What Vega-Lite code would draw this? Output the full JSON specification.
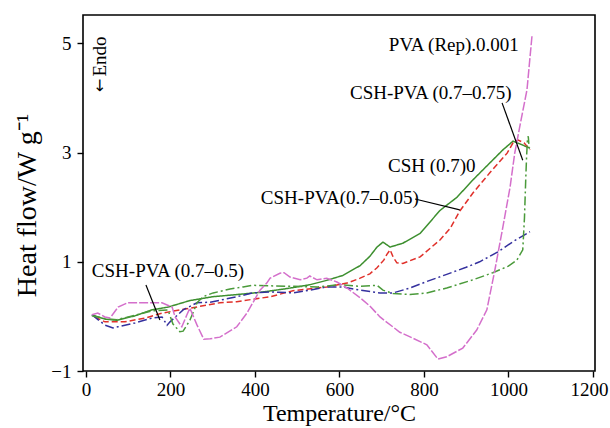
{
  "$schema": "https://vega.github.io/schema/vega-lite/v6.json",
  "width": 512,
  "height": 356,
  "autosize": "none",
  "padding": {"left": 83, "top": 15, "right": 15, "bottom": 57},
  "background": "white",
  "config": {
    "view": {"stroke": "black", "strokeWidth": 1.6},
    "font": "Liberation Serif",
    "axis": {"grid": false, "domain": false, "tickColor": "black", "tickSize": 6, "tickWidth": 1.4, "labelColor": "black", "titleColor": "black", "labelFont": "Liberation Serif", "titleFont": "Liberation Serif", "labelFontSize": 19, "titleFontSize": 24, "titleFontWeight": "normal"}
  },
  "datasets": {
    "curves": [
      {"s": "CSH (0.7)0", "T": 14, "y": 0.03},
      {"s": "CSH (0.7)0", "T": 45, "y": -0.05},
      {"s": "CSH (0.7)0", "T": 73, "y": -0.07},
      {"s": "CSH (0.7)0", "T": 116, "y": 0.01},
      {"s": "CSH (0.7)0", "T": 156, "y": 0.12},
      {"s": "CSH (0.7)0", "T": 194, "y": 0.17},
      {"s": "CSH (0.7)0", "T": 246, "y": 0.29},
      {"s": "CSH (0.7)0", "T": 300, "y": 0.36},
      {"s": "CSH (0.7)0", "T": 357, "y": 0.40},
      {"s": "CSH (0.7)0", "T": 412, "y": 0.44},
      {"s": "CSH (0.7)0", "T": 476, "y": 0.51},
      {"s": "CSH (0.7)0", "T": 530, "y": 0.58},
      {"s": "CSH (0.7)0", "T": 570, "y": 0.66},
      {"s": "CSH (0.7)0", "T": 608, "y": 0.75},
      {"s": "CSH (0.7)0", "T": 649, "y": 0.93},
      {"s": "CSH (0.7)0", "T": 672, "y": 1.10},
      {"s": "CSH (0.7)0", "T": 689, "y": 1.27},
      {"s": "CSH (0.7)0", "T": 703, "y": 1.36},
      {"s": "CSH (0.7)0", "T": 720, "y": 1.27},
      {"s": "CSH (0.7)0", "T": 750, "y": 1.34},
      {"s": "CSH (0.7)0", "T": 791, "y": 1.52},
      {"s": "CSH (0.7)0", "T": 838, "y": 1.94},
      {"s": "CSH (0.7)0", "T": 878, "y": 2.18},
      {"s": "CSH (0.7)0", "T": 916, "y": 2.50},
      {"s": "CSH (0.7)0", "T": 956, "y": 2.81},
      {"s": "CSH (0.7)0", "T": 987, "y": 3.05},
      {"s": "CSH (0.7)0", "T": 1011, "y": 3.21},
      {"s": "CSH (0.7)0", "T": 1027, "y": 3.16},
      {"s": "CSH (0.7)0", "T": 1051, "y": 3.08},

      {"s": "CSH-PVA(0.7–0.05)", "T": 21, "y": -0.01},
      {"s": "CSH-PVA(0.7–0.05)", "T": 45, "y": -0.10},
      {"s": "CSH-PVA(0.7–0.05)", "T": 92, "y": -0.10},
      {"s": "CSH-PVA(0.7–0.05)", "T": 140, "y": -0.03},
      {"s": "CSH-PVA(0.7–0.05)", "T": 180, "y": 0.06},
      {"s": "CSH-PVA(0.7–0.05)", "T": 246, "y": 0.15},
      {"s": "CSH-PVA(0.7–0.05)", "T": 317, "y": 0.25},
      {"s": "CSH-PVA(0.7–0.05)", "T": 357, "y": 0.27},
      {"s": "CSH-PVA(0.7–0.05)", "T": 436, "y": 0.36},
      {"s": "CSH-PVA(0.7–0.05)", "T": 490, "y": 0.47},
      {"s": "CSH-PVA(0.7–0.05)", "T": 570, "y": 0.54},
      {"s": "CSH-PVA(0.7–0.05)", "T": 618, "y": 0.61},
      {"s": "CSH-PVA(0.7–0.05)", "T": 649, "y": 0.70},
      {"s": "CSH-PVA(0.7–0.05)", "T": 672, "y": 0.78},
      {"s": "CSH-PVA(0.7–0.05)", "T": 689, "y": 0.89},
      {"s": "CSH-PVA(0.7–0.05)", "T": 705, "y": 1.03},
      {"s": "CSH-PVA(0.7–0.05)", "T": 712, "y": 1.13},
      {"s": "CSH-PVA(0.7–0.05)", "T": 720, "y": 1.22},
      {"s": "CSH-PVA(0.7–0.05)", "T": 727, "y": 1.09},
      {"s": "CSH-PVA(0.7–0.05)", "T": 736, "y": 0.98},
      {"s": "CSH-PVA(0.7–0.05)", "T": 750, "y": 0.97},
      {"s": "CSH-PVA(0.7–0.05)", "T": 791, "y": 1.09},
      {"s": "CSH-PVA(0.7–0.05)", "T": 838, "y": 1.40},
      {"s": "CSH-PVA(0.7–0.05)", "T": 862, "y": 1.61},
      {"s": "CSH-PVA(0.7–0.05)", "T": 885, "y": 1.93},
      {"s": "CSH-PVA(0.7–0.05)", "T": 916, "y": 2.26},
      {"s": "CSH-PVA(0.7–0.05)", "T": 956, "y": 2.63},
      {"s": "CSH-PVA(0.7–0.05)", "T": 997, "y": 2.99},
      {"s": "CSH-PVA(0.7–0.05)", "T": 1011, "y": 3.18},
      {"s": "CSH-PVA(0.7–0.05)", "T": 1023, "y": 3.23},
      {"s": "CSH-PVA(0.7–0.05)", "T": 1037, "y": 3.18},
      {"s": "CSH-PVA(0.7–0.05)", "T": 1051, "y": 3.05},

      {"s": "CSH-PVA (0.7–0.5)", "T": 14, "y": 0.03},
      {"s": "CSH-PVA (0.7–0.5)", "T": 45, "y": -0.16},
      {"s": "CSH-PVA (0.7–0.5)", "T": 64, "y": -0.21},
      {"s": "CSH-PVA (0.7–0.5)", "T": 76, "y": -0.19},
      {"s": "CSH-PVA (0.7–0.5)", "T": 116, "y": -0.12},
      {"s": "CSH-PVA (0.7–0.5)", "T": 156, "y": -0.03},
      {"s": "CSH-PVA (0.7–0.5)", "T": 180, "y": -0.01},
      {"s": "CSH-PVA (0.7–0.5)", "T": 192, "y": -0.16},
      {"s": "CSH-PVA (0.7–0.5)", "T": 199, "y": -0.10},
      {"s": "CSH-PVA (0.7–0.5)", "T": 230, "y": 0.12},
      {"s": "CSH-PVA (0.7–0.5)", "T": 263, "y": 0.25},
      {"s": "CSH-PVA (0.7–0.5)", "T": 294, "y": 0.26},
      {"s": "CSH-PVA (0.7–0.5)", "T": 357, "y": 0.36},
      {"s": "CSH-PVA (0.7–0.5)", "T": 395, "y": 0.43},
      {"s": "CSH-PVA (0.7–0.5)", "T": 436, "y": 0.45},
      {"s": "CSH-PVA (0.7–0.5)", "T": 490, "y": 0.43},
      {"s": "CSH-PVA (0.7–0.5)", "T": 530, "y": 0.48},
      {"s": "CSH-PVA (0.7–0.5)", "T": 570, "y": 0.54},
      {"s": "CSH-PVA (0.7–0.5)", "T": 608, "y": 0.54},
      {"s": "CSH-PVA (0.7–0.5)", "T": 649, "y": 0.48},
      {"s": "CSH-PVA (0.7–0.5)", "T": 696, "y": 0.43},
      {"s": "CSH-PVA (0.7–0.5)", "T": 727, "y": 0.43},
      {"s": "CSH-PVA (0.7–0.5)", "T": 767, "y": 0.52},
      {"s": "CSH-PVA (0.7–0.5)", "T": 807, "y": 0.64},
      {"s": "CSH-PVA (0.7–0.5)", "T": 854, "y": 0.77},
      {"s": "CSH-PVA (0.7–0.5)", "T": 900, "y": 0.90},
      {"s": "CSH-PVA (0.7–0.5)", "T": 932, "y": 1.00},
      {"s": "CSH-PVA (0.7–0.5)", "T": 975, "y": 1.18},
      {"s": "CSH-PVA (0.7–0.5)", "T": 1011, "y": 1.37},
      {"s": "CSH-PVA (0.7–0.5)", "T": 1051, "y": 1.55},

      {"s": "CSH-PVA (0.7–0.75)", "T": 14, "y": 0.01},
      {"s": "CSH-PVA (0.7–0.75)", "T": 45, "y": -0.04},
      {"s": "CSH-PVA (0.7–0.75)", "T": 73, "y": -0.06},
      {"s": "CSH-PVA (0.7–0.75)", "T": 116, "y": 0.02},
      {"s": "CSH-PVA (0.7–0.75)", "T": 156, "y": 0.10},
      {"s": "CSH-PVA (0.7–0.75)", "T": 194, "y": 0.12},
      {"s": "CSH-PVA (0.7–0.75)", "T": 206, "y": -0.14},
      {"s": "CSH-PVA (0.7–0.75)", "T": 222, "y": -0.28},
      {"s": "CSH-PVA (0.7–0.75)", "T": 230, "y": -0.27},
      {"s": "CSH-PVA (0.7–0.75)", "T": 246, "y": -0.07},
      {"s": "CSH-PVA (0.7–0.75)", "T": 263, "y": 0.25},
      {"s": "CSH-PVA (0.7–0.75)", "T": 277, "y": 0.36},
      {"s": "CSH-PVA (0.7–0.75)", "T": 301, "y": 0.43},
      {"s": "CSH-PVA (0.7–0.75)", "T": 341, "y": 0.50},
      {"s": "CSH-PVA (0.7–0.75)", "T": 372, "y": 0.54},
      {"s": "CSH-PVA (0.7–0.75)", "T": 395, "y": 0.57},
      {"s": "CSH-PVA (0.7–0.75)", "T": 436, "y": 0.56},
      {"s": "CSH-PVA (0.7–0.75)", "T": 490, "y": 0.55},
      {"s": "CSH-PVA (0.7–0.75)", "T": 549, "y": 0.54},
      {"s": "CSH-PVA (0.7–0.75)", "T": 601, "y": 0.58},
      {"s": "CSH-PVA (0.7–0.75)", "T": 649, "y": 0.55},
      {"s": "CSH-PVA (0.7–0.75)", "T": 689, "y": 0.57},
      {"s": "CSH-PVA (0.7–0.75)", "T": 703, "y": 0.48},
      {"s": "CSH-PVA (0.7–0.75)", "T": 727, "y": 0.42},
      {"s": "CSH-PVA (0.7–0.75)", "T": 767, "y": 0.40},
      {"s": "CSH-PVA (0.7–0.75)", "T": 807, "y": 0.43},
      {"s": "CSH-PVA (0.7–0.75)", "T": 854, "y": 0.52},
      {"s": "CSH-PVA (0.7–0.75)", "T": 916, "y": 0.67},
      {"s": "CSH-PVA (0.7–0.75)", "T": 963, "y": 0.80},
      {"s": "CSH-PVA (0.7–0.75)", "T": 1000, "y": 0.92},
      {"s": "CSH-PVA (0.7–0.75)", "T": 1020, "y": 1.03},
      {"s": "CSH-PVA (0.7–0.75)", "T": 1034, "y": 1.22},
      {"s": "CSH-PVA (0.7–0.75)", "T": 1038, "y": 1.8},
      {"s": "CSH-PVA (0.7–0.75)", "T": 1041, "y": 2.5},
      {"s": "CSH-PVA (0.7–0.75)", "T": 1043, "y": 2.92},
      {"s": "CSH-PVA (0.7–0.75)", "T": 1045, "y": 3.22},
      {"s": "CSH-PVA (0.7–0.75)", "T": 1047, "y": 3.30},
      {"s": "CSH-PVA (0.7–0.75)", "T": 1049, "y": 3.10},

      {"s": "PVA (Rep).0.001", "T": 14, "y": 0.03},
      {"s": "PVA (Rep).0.001", "T": 28, "y": 0.06},
      {"s": "PVA (Rep).0.001", "T": 45, "y": -0.01},
      {"s": "PVA (Rep).0.001", "T": 57, "y": -0.03},
      {"s": "PVA (Rep).0.001", "T": 76, "y": 0.17},
      {"s": "PVA (Rep).0.001", "T": 99, "y": 0.25},
      {"s": "PVA (Rep).0.001", "T": 116, "y": 0.25},
      {"s": "PVA (Rep).0.001", "T": 180, "y": 0.25},
      {"s": "PVA (Rep).0.001", "T": 204, "y": 0.17},
      {"s": "PVA (Rep).0.001", "T": 211, "y": -0.01},
      {"s": "PVA (Rep).0.001", "T": 227, "y": -0.19},
      {"s": "PVA (Rep).0.001", "T": 239, "y": 0.03},
      {"s": "PVA (Rep).0.001", "T": 246, "y": 0.15},
      {"s": "PVA (Rep).0.001", "T": 263, "y": -0.16},
      {"s": "PVA (Rep).0.001", "T": 279, "y": -0.42},
      {"s": "PVA (Rep).0.001", "T": 294, "y": -0.41},
      {"s": "PVA (Rep).0.001", "T": 317, "y": -0.38},
      {"s": "PVA (Rep).0.001", "T": 357, "y": -0.19},
      {"s": "PVA (Rep).0.001", "T": 381, "y": 0.06},
      {"s": "PVA (Rep).0.001", "T": 395, "y": 0.25},
      {"s": "PVA (Rep).0.001", "T": 412, "y": 0.48},
      {"s": "PVA (Rep).0.001", "T": 428, "y": 0.61},
      {"s": "PVA (Rep).0.001", "T": 436, "y": 0.70},
      {"s": "PVA (Rep).0.001", "T": 459, "y": 0.79},
      {"s": "PVA (Rep).0.001", "T": 469, "y": 0.80},
      {"s": "PVA (Rep).0.001", "T": 483, "y": 0.72},
      {"s": "PVA (Rep).0.001", "T": 507, "y": 0.67},
      {"s": "PVA (Rep).0.001", "T": 523, "y": 0.70},
      {"s": "PVA (Rep).0.001", "T": 530, "y": 0.74},
      {"s": "PVA (Rep).0.001", "T": 547, "y": 0.67},
      {"s": "PVA (Rep).0.001", "T": 570, "y": 0.70},
      {"s": "PVA (Rep).0.001", "T": 594, "y": 0.63},
      {"s": "PVA (Rep).0.001", "T": 618, "y": 0.52},
      {"s": "PVA (Rep).0.001", "T": 649, "y": 0.34},
      {"s": "PVA (Rep).0.001", "T": 672, "y": 0.19},
      {"s": "PVA (Rep).0.001", "T": 696, "y": -0.01},
      {"s": "PVA (Rep).0.001", "T": 743, "y": -0.29},
      {"s": "PVA (Rep).0.001", "T": 774, "y": -0.40},
      {"s": "PVA (Rep).0.001", "T": 807, "y": -0.52},
      {"s": "PVA (Rep).0.001", "T": 833, "y": -0.78},
      {"s": "PVA (Rep).0.001", "T": 854, "y": -0.74},
      {"s": "PVA (Rep).0.001", "T": 892, "y": -0.58},
      {"s": "PVA (Rep).0.001", "T": 925, "y": -0.25},
      {"s": "PVA (Rep).0.001", "T": 949, "y": 0.12},
      {"s": "PVA (Rep).0.001", "T": 968, "y": 0.85},
      {"s": "PVA (Rep).0.001", "T": 987, "y": 1.64},
      {"s": "PVA (Rep).0.001", "T": 1004, "y": 2.37},
      {"s": "PVA (Rep).0.001", "T": 1015, "y": 2.99},
      {"s": "PVA (Rep).0.001", "T": 1030, "y": 3.60},
      {"s": "PVA (Rep).0.001", "T": 1044, "y": 4.15},
      {"s": "PVA (Rep).0.001", "T": 1056, "y": 5.15}
    ],
    "labels": [
      {"label": "PVA (Rep).0.001", "T": 717, "y": 4.97},
      {"label": "CSH-PVA (0.7–0.75)", "T": 625, "y": 4.09},
      {"label": "CSH (0.7)0", "T": 715, "y": 2.75},
      {"label": "CSH-PVA(0.7–0.05)", "T": 414, "y": 2.17},
      {"label": "CSH-PVA (0.7–0.5)", "T": 14, "y": 0.83}
    ],
    "leaders": [
      {"T": 985, "y": 3.91, "T2": 1034, "y2": 2.86},
      {"T": 779, "y": 2.15, "T2": 885, "y2": 1.95},
      {"T": 142, "y": 0.575, "T2": 175, "y2": -0.066}
    ],
    "endo": [
      {"label": "Endo", "T": 33, "y": 4.76}
    ],
    "arrow": [
      {"label": "←", "T": 33, "y": 4.23}
    ]
  },
  "layer": [
    {
      "data": {"name": "curves"},
      "mark": {"type": "line", "strokeWidth": 1.5, "clip": true},
      "encoding": {
        "x": {"field": "T", "type": "quantitative", "scale": {"domain": [-7, 1205], "nice": false, "zero": false}, "axis": {"values": [0, 200, 400, 600, 800, 1000, 1200], "format": "d", "title": "Temperature/°C", "titlePadding": 2, "labelPadding": 3, "labelOffset": {"condition": {"test": "datum.value == 1200", "value": -4}, "value": 0}}},
        "y": {"field": "y", "type": "quantitative", "scale": {"domain": [-1, 5.52], "nice": false, "zero": false}, "axis": {"values": [-1, 1, 3, 5], "title": "Heat flow/W g⁻¹", "titleFontSize": 28, "titlePadding": 9, "titleY": 190, "labelPadding": 6}},
        "color": {"field": "s", "type": "nominal", "legend": null, "scale": {"domain": ["CSH (0.7)0", "CSH-PVA(0.7–0.05)", "CSH-PVA (0.7–0.5)", "CSH-PVA (0.7–0.75)", "PVA (Rep).0.001"], "range": ["#3d8f2f", "#e0302a", "#34309e", "#4a9a3a", "#d46fcb"]}},
        "strokeDash": {"field": "s", "type": "nominal", "legend": null, "scale": {"domain": ["CSH (0.7)0", "CSH-PVA(0.7–0.05)", "CSH-PVA (0.7–0.5)", "CSH-PVA (0.7–0.75)", "PVA (Rep).0.001"], "range": [[1, 0], [6, 3], [9, 3, 2, 3], [9, 3, 2, 3], [9, 2]]}}
      }
    },
    {
      "data": {"name": "leaders"},
      "mark": {"type": "rule", "color": "black", "strokeWidth": 1.2},
      "encoding": {
        "x": {"field": "T", "type": "quantitative"},
        "y": {"field": "y", "type": "quantitative"},
        "x2": {"field": "T2"},
        "y2": {"field": "y2"}
      }
    },
    {
      "data": {"name": "labels"},
      "mark": {"type": "text", "align": "left", "baseline": "middle", "font": "Liberation Serif", "fontSize": 19, "color": "black"},
      "encoding": {
        "x": {"field": "T", "type": "quantitative"},
        "y": {"field": "y", "type": "quantitative"},
        "text": {"field": "label"}
      }
    },
    {
      "data": {"name": "endo"},
      "mark": {"type": "text", "align": "center", "baseline": "middle", "angle": 270, "font": "Liberation Serif", "fontSize": 19, "color": "black"},
      "encoding": {
        "x": {"field": "T", "type": "quantitative"},
        "y": {"field": "y", "type": "quantitative"},
        "text": {"field": "label"}
      }
    },
    {
      "data": {"name": "arrow"},
      "mark": {"type": "text", "align": "center", "baseline": "middle", "angle": 270, "font": "DejaVu Sans", "fontSize": 16, "color": "black"},
      "encoding": {
        "x": {"field": "T", "type": "quantitative"},
        "y": {"field": "y", "type": "quantitative"},
        "text": {"field": "label"}
      }
    }
  ]
}
